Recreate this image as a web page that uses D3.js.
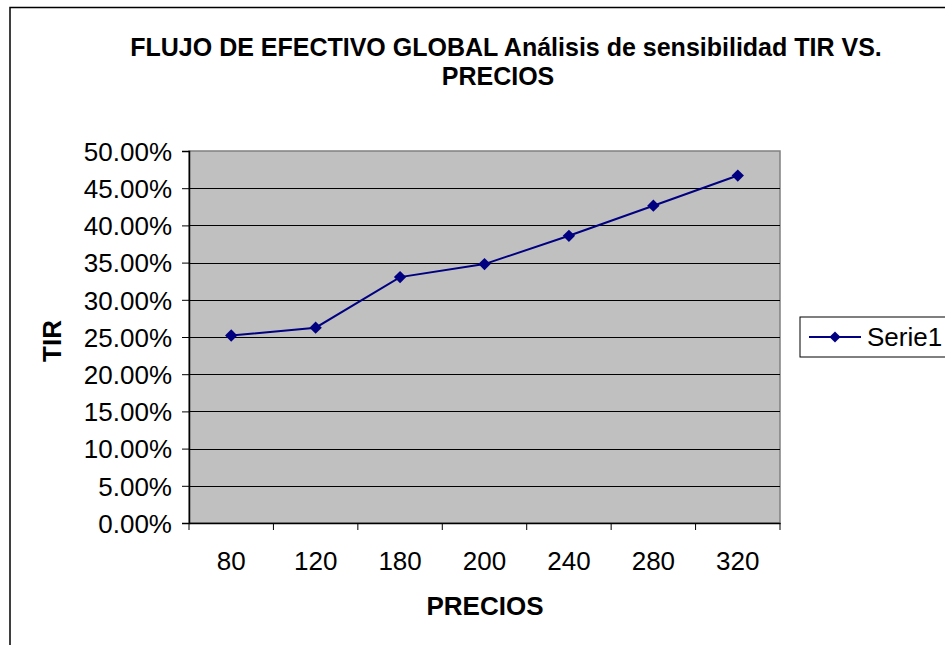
<!DOCTYPE html>
<html><head><meta charset="utf-8">
<script src="https://cdn.jsdelivr.net/npm/d3@7"></script>
<style>body{margin:0;background:#fff}svg{display:block;font-family:"Liberation Sans",Arial,sans-serif}</style>
</head><body><svg id="c" width="945" height="645"></svg>
<script>
const categories = ["80","120","180","200","240","280","320"];
const tirValues = [0.252, 0.2625, 0.3305, 0.348, 0.386, 0.4265, 0.467];
const yTicks = [0,0.05,0.10,0.15,0.20,0.25,0.30,0.35,0.40,0.45,0.50];
const seriesName = "Serie1";

const svg = d3.select("#c");
const L=189, R=780, T=151, B=523;
// outer border
svg.append("rect").attr("x",10).attr("y",7.5).attr("width",960).attr("height",660)
  .attr("fill","#fff").attr("stroke","#000").attr("stroke-width",1.5);

const x = d3.scaleBand().domain(categories).range([L,R]);
const y = d3.scaleLinear().domain([0,0.5]).range([B,T]);

svg.append("rect").attr("x",L).attr("y",T).attr("width",R-L).attr("height",B-T)
  .attr("fill","#c0c0c0").attr("stroke","#808080").attr("stroke-width",1.5);
svg.append("g").selectAll("line").data(yTicks.slice(1,-1)).join("line")
  .attr("x1",L).attr("x2",R).attr("y1",d=>Math.round(y(d))+0.5).attr("y2",d=>Math.round(y(d))+0.5)
  .attr("stroke","#000").attr("stroke-width",1);

const fmt = d=>(d*100).toFixed(2)+"%";
const ya = svg.append("g").attr("transform",`translate(${L},0)`)
  .call(d3.axisLeft(y).tickValues(yTicks).tickFormat(fmt).tickSize(7).tickPadding(10));
ya.select(".domain").attr("stroke","#000").attr("stroke-width",1.5);
ya.selectAll(".tick line").attr("stroke","#000");
ya.selectAll("text").attr("font-size",26).attr("fill","#000").attr("font-family","Liberation Sans, Arial").attr("dy","0.36em");

const xa = svg.append("g").attr("transform",`translate(0,${B})`)
  .call(d3.axisBottom(x).tickSize(0).tickPadding(29));
xa.select(".domain").attr("stroke","#000").attr("stroke-width",1.5);
xa.selectAll("text").attr("font-size",26).attr("fill","#000").attr("font-family","Liberation Sans, Arial");
// category boundary ticks
const bounds = categories.map(c=>x(c)).concat([R]);
svg.append("g").selectAll("line").data(bounds).join("line")
  .attr("x1",d=>d).attr("x2",d=>d).attr("y1",B).attr("y2",B+7).attr("stroke","#000");

const line = d3.line().x((d,i)=>x(categories[i])+x.bandwidth()/2).y(d=>y(d));
svg.append("path").datum(tirValues).attr("d",line).attr("fill","none")
  .attr("stroke","#000080").attr("stroke-width",2);
svg.append("g").selectAll("path").data(tirValues).join("path")
  .attr("d", d3.symbol().type(d3.symbolSquare).size(76))
  .attr("transform",(d,i)=>`translate(${x(categories[i])+x.bandwidth()/2},${y(d)}) rotate(45)`)
  .attr("fill","#000080");

// title
const title = svg.append("text").attr("text-anchor","middle").attr("font-weight","bold")
  .attr("font-size",25).attr("fill","#000");
title.append("tspan").attr("x",506).attr("y",56).text("FLUJO DE EFECTIVO GLOBAL Análisis de sensibilidad TIR VS.");
title.append("tspan").attr("x",498).attr("y",85).text("PRECIOS");

svg.append("text").attr("x",485).attr("y",615).attr("text-anchor","middle")
  .attr("font-weight","bold").attr("font-size",26).text("PRECIOS");
svg.append("text").attr("transform","translate(61,341) rotate(-90)").attr("text-anchor","middle")
  .attr("font-weight","bold").attr("font-size",26).text("TIR");

// legend
svg.append("rect").attr("x",800).attr("y",317).attr("width",200).attr("height",40)
  .attr("fill","#fff").attr("stroke","#000").attr("stroke-width",1);
svg.append("line").attr("x1",809).attr("x2",861).attr("y1",337).attr("y2",337)
  .attr("stroke","#000080").attr("stroke-width",2);
svg.append("path").attr("d",d3.symbol().type(d3.symbolSquare).size(62)())
  .attr("transform","translate(835,337) rotate(45)").attr("fill","#000080");
svg.append("text").attr("x",867).attr("y",346).attr("font-size",26).text(seriesName);
</script></body></html>
